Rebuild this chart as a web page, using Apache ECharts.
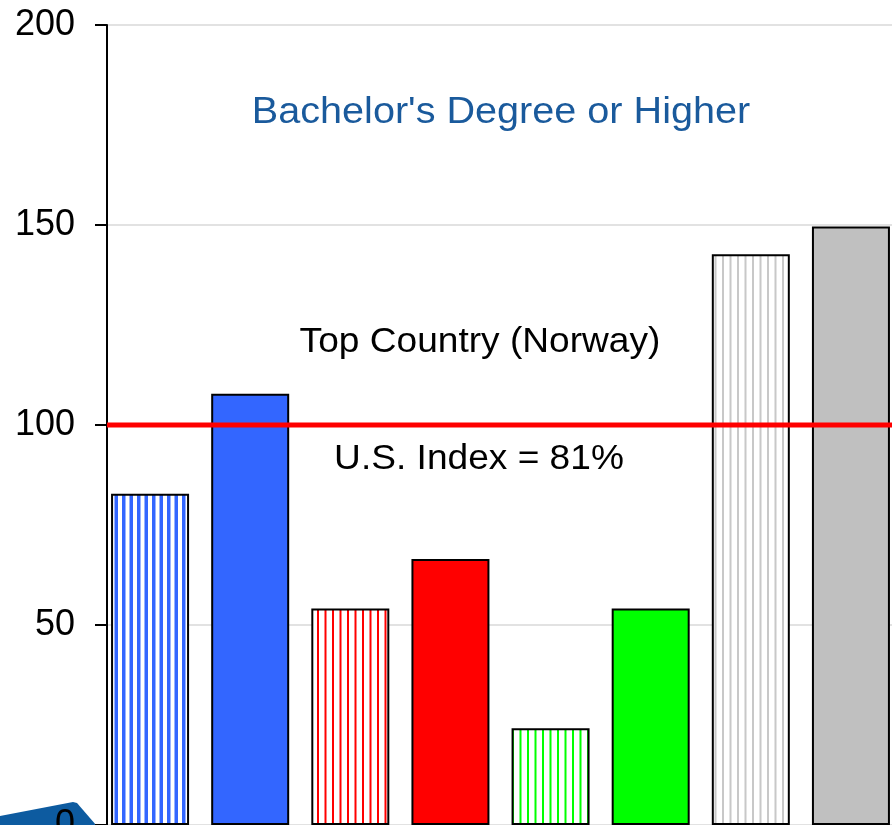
<!DOCTYPE html>
<html>
<head>
<meta charset="utf-8">
<script src="https://cdn.jsdelivr.net/npm/echarts@6/dist/echarts.min.js"></script>
<style>
html,body{margin:0;padding:0;background:#fff;}
#chart{width:892px;height:825px;}
</style>
</head>
<body>
<div id="chart"></div>
<script>
// ---- data ----
var categories = ['Group 1 (hatched)', 'Group 1', 'Group 2 (hatched)', 'Group 2', 'Group 3 (hatched)', 'Group 3', 'Group 4 (hatched)', 'Group 4'];
var values = [82.8, 107.8, 54.1, 66.5, 24.2, 54.1, 142.7, 149.6];
var barColors = ['#3366FF', '#3366FF', '#FF0000', '#FF0000', '#00FF00', '#00FF00', '#C8C8C8', '#C0C0C0'];
var hatched = [true, false, true, false, true, false, true, false];
var stripeWidths = [3.5, 0, 2, 0, 2, 0, 2, 0];
var yTicks = [0, 50, 100, 150, 200];
var usIndex = [100];
var titleText = "Bachelor's Degree or Higher";
var topCountryText = 'Top Country (Norway)';
var usIndexText = 'U.S. Index = 81%';

function stripePattern(color, w) {
  var c = document.createElement('canvas');
  c.width = 15; c.height = 10;
  var ctx = c.getContext('2d');
  ctx.fillStyle = '#ffffff';
  ctx.fillRect(0, 0, c.width, c.height);
  ctx.fillStyle = color;
  ctx.fillRect(2, 0, w, c.height);
  ctx.fillRect(9.5, 0, w, c.height);
  return { image: c, repeat: 'repeat' };
}

var barData = values.map(function (v, i) {
  return {
    value: v,
    itemStyle: {
      color: hatched[i] ? stripePattern(barColors[i], stripeWidths[i]) : barColors[i],
      borderColor: '#000',
      borderWidth: 2
    }
  };
});

var chart = echarts.init(document.getElementById('chart'), null, { renderer: 'canvas' });
var font = 'Liberation Sans, Arial, Helvetica, sans-serif';
chart.setOption({
  animation: false,
  backgroundColor: '#ffffff',
  grid: [
    { left: 100, top: 25, width: 801, height: 800, containLabel: false, outerBoundsMode: 'none' },
    { left: 107, top: 25, width: 785, height: 800, containLabel: false, outerBoundsMode: 'none' }
  ],
  xAxis: [
    { type: 'category', gridIndex: 0, data: categories, axisLine: { show: false }, axisTick: { show: false }, axisLabel: { show: false } },
    { type: 'value', gridIndex: 1, min: 0, max: 1, show: false }
  ],
  yAxis: [
    { type: 'value', gridIndex: 0, min: 0, max: 200, show: false, splitLine: { show: false } },
    {
      type: 'value', gridIndex: 1, min: yTicks[0], max: yTicks[yTicks.length - 1], interval: 50,
      axisLine: { show: true, lineStyle: { color: '#000', width: 2 } },
      axisTick: { show: true, length: 12, lineStyle: { color: '#000', width: 2 } },
      axisLabel: { show: true, color: '#000', fontSize: 36, fontFamily: font, margin: 32 },
      splitLine: { show: true, lineStyle: { color: '#d9d9d9', width: 1.5 } }
    }
  ],
  graphic: [
    { type: 'polygon', z: -1, shape: { points: [[0, 816], [73, 802], [77, 803], [96, 825], [0, 825]] }, style: { fill: '#0D5BA0' } },
    { type: 'text', z: 10, x: 501, y: 113, scaleX: 1.1, originX: 0, originY: 0, style: { text: titleText, fill: '#1A5A9C', font: '36px ' + font, textAlign: 'center', textVerticalAlign: 'middle' } },
    { type: 'text', z: 10, x: 480, y: 342, scaleX: 1.06, originX: 0, originY: 0, style: { text: topCountryText, fill: '#000', font: '35px ' + font, textAlign: 'center', textVerticalAlign: 'middle' } },
    { type: 'text', z: 10, x: 479, y: 459, scaleX: 1.06, originX: 0, originY: 0, style: { text: usIndexText, fill: '#000', font: '35px ' + font, textAlign: 'center', textVerticalAlign: 'middle' } }
  ],
  series: [
    {
      type: 'bar', xAxisIndex: 0, yAxisIndex: 0, data: barData, barWidth: 78, z: 2
    },
    {
      type: 'line', xAxisIndex: 1, yAxisIndex: 1, z: 5, symbol: 'none',
      data: [[0, usIndex[0]], [1, usIndex[0]]],
      lineStyle: { color: '#FF0000', width: 5 }
    }
  ]
});
</script>
</body>
</html>
